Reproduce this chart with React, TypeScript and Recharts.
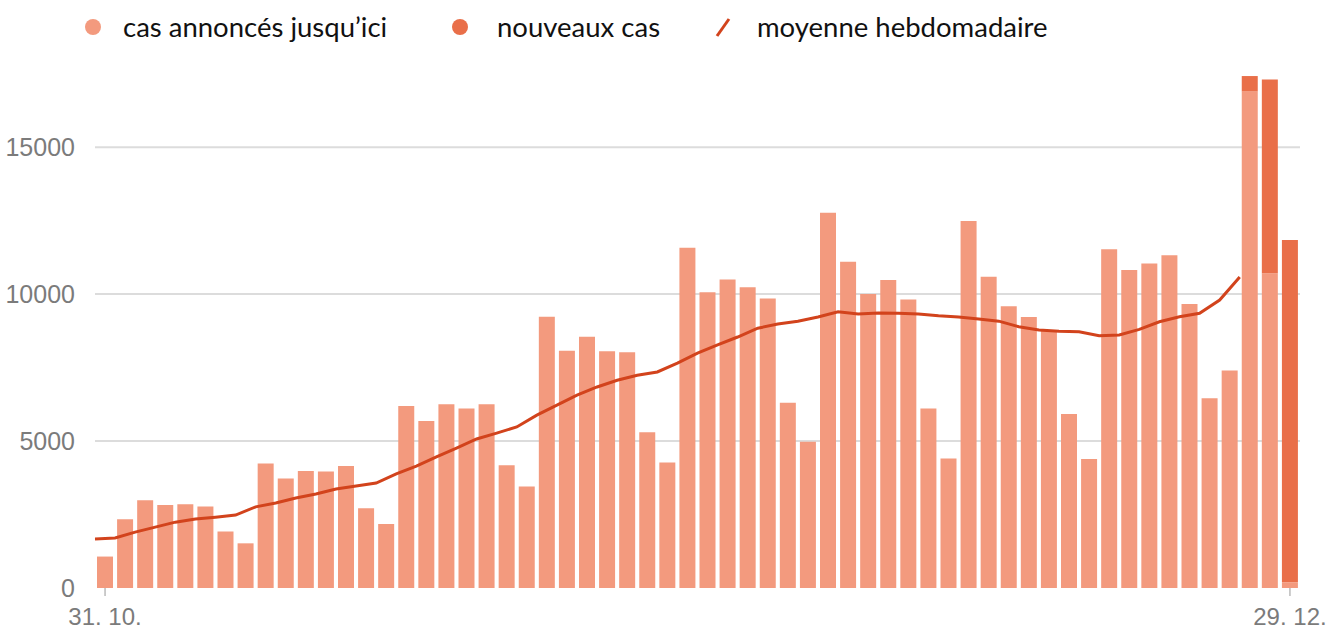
import { Bar, CartesianGrid, ComposedChart, Line, XAxis, YAxis } from "recharts";

// day labels, 31.10. -> 29.12.
const days = [
  "31. 10.",
  "1. 11.", "2. 11.", "3. 11.", "4. 11.", "5. 11.", "6. 11.", "7. 11.", "8. 11.", "9. 11.", "10. 11.",
  "11. 11.", "12. 11.", "13. 11.", "14. 11.", "15. 11.", "16. 11.", "17. 11.", "18. 11.", "19. 11.", "20. 11.",
  "21. 11.", "22. 11.", "23. 11.", "24. 11.", "25. 11.", "26. 11.", "27. 11.", "28. 11.", "29. 11.", "30. 11.",
  "1. 12.", "2. 12.", "3. 12.", "4. 12.", "5. 12.", "6. 12.", "7. 12.", "8. 12.", "9. 12.", "10. 12.",
  "11. 12.", "12. 12.", "13. 12.", "14. 12.", "15. 12.", "16. 12.", "17. 12.", "18. 12.", "19. 12.", "20. 12.",
  "21. 12.", "22. 12.", "23. 12.", "24. 12.", "25. 12.", "26. 12.", "27. 12.", "28. 12.", "29. 12.",
];

const announced = [
  1070, 2340, 2990, 2820, 2850, 2770, 1920, 1520, 4240, 3730,
  3980, 3960, 4150, 2710, 2180, 6190, 5680, 6250, 6110, 6250,
  4180, 3450, 9230, 8070, 8550, 8060, 8020, 5300, 4270, 11580,
  10060, 10500, 10230, 9850, 6300, 4980, 12770, 11100, 10000, 10480,
  9820, 6110, 4410, 12490, 10590, 9590, 9220, 8780, 5920, 4390,
  11530, 10820, 11040, 11320, 9660, 6460, 7400, 16900, 10710, 200,
];

const newCases = [
  0, 0, 0, 0, 0, 0, 0, 0, 0, 0,
  0, 0, 0, 0, 0, 0, 0, 0, 0, 0,
  0, 0, 0, 0, 0, 0, 0, 0, 0, 0,
  0, 0, 0, 0, 0, 0, 0, 0, 0, 0,
  0, 0, 0, 0, 0, 0, 0, 0, 0, 0,
  0, 0, 0, 0, 0, 0, 0, 520, 6590, 11640,
];

const weeklyAvg = [
  1670, 1700, 1900, 2070, 2240, 2350, 2410, 2480, 2760, 2890,
  3060, 3200, 3370, 3470, 3570, 3880, 4150, 4460, 4760, 5070,
  5270, 5480, 5880, 6220, 6560, 6840, 7070, 7240, 7350, 7650,
  7990, 8270, 8540, 8840, 8980, 9080, 9220, 9400, 9320, 9360,
  9350, 9320, 9260, 9220, 9150, 9080, 8890, 8780, 8740, 8720,
  8580, 8610, 8800, 9060, 9230, 9350, 9800, 10580,
];

const yTicks = [0, 5000, 10000, 15000];
const gridValues = [5000, 10000, 15000];
const xTicks = ["31. 10.", "29. 12."];

const LIGHT = "#F39A7E";
const DARK = "#E96F49";
const LINE = "#D2431C";
const TICK = "#7b7b7b";

const rows = days.map((day, i) => ({
  day,
  pos: i,
  announced: announced[i],
  newCases: newCases[i],
  avg: i < weeklyAvg.length ? weeklyAvg[i] : null,
}));

const legendText = {
  position: "absolute" as const,
  top: 8,
  fontSize: 27.5,
  lineHeight: "38px",
  color: "#111",
  whiteSpace: "nowrap" as const,
};

function Dot({ left, color }: { left: number; color: string }) {
  return (
    <div
      style={{
        position: "absolute",
        left: left - 8,
        top: 19,
        width: 16,
        height: 16,
        borderRadius: 8,
        background: color,
      }}
    />
  );
}

export default function App() {
  return (
    <div
      style={{
        position: "fixed",
        left: 0,
        top: 0,
        width: 1330,
        height: 631,
        fontFamily: "Lato, sans-serif",
        background: "#fff",
        overflow: "hidden",
      }}
    >
      <Dot left={93} color={LIGHT} />
      <div style={{ ...legendText, left: 123 }}>cas annoncés jusqu’ici</div>
      <Dot left={460} color={DARK} />
      <div style={{ ...legendText, left: 497 }}>nouveaux cas</div>
      <svg style={{ position: "absolute", left: 712, top: 15 }} width={22} height={26}>
        <line x1={5} y1={21} x2={17} y2={4} stroke={LINE} strokeWidth={3} />
      </svg>
      <div style={{ ...legendText, left: 757 }}>moyenne hebdomadaire</div>

      <div style={{ position: "absolute", left: 0, top: 0 }}>
        <ComposedChart
          width={1330}
          height={631}
          data={rows}
          margin={{ top: 59, right: 30, bottom: 0, left: 0 }}
          barCategoryGap={2}
        >
          <CartesianGrid
            horizontal
            vertical={false}
            horizontalValues={gridValues}
            stroke="#dcdcdc"
            strokeWidth={2}
          />
          <XAxis
            dataKey="day"
            ticks={xTicks}
            interval={0}
            height={43}
            axisLine={false}
            tickSize={8}
            tickMargin={12}
            tickLine={{ stroke: "#999" }}
            tick={{ fill: TICK, fontSize: 24, fontFamily: "Liberation Sans, Arial, sans-serif" }}
          />
          <XAxis xAxisId="avg" dataKey="pos" type="number" domain={[0, 60]} hide />
          <YAxis
            width={95}
            domain={[0, 18000]}
            ticks={yTicks}
            axisLine={false}
            tickLine={false}
            tickMargin={14}
            tick={{ fill: TICK, fontSize: 25, fontFamily: "Liberation Sans, Arial, sans-serif" }}
          />
          <Bar dataKey="announced" stackId="a" fill={LIGHT} isAnimationActive={false} />
          <Bar dataKey="newCases" stackId="a" fill={DARK} isAnimationActive={false} />
          <Line
            xAxisId="avg"
            dataKey="avg"
            type="linear"
            stroke={LINE}
            strokeWidth={3}
            dot={false}
            activeDot={false}
            isAnimationActive={false}
          />
        </ComposedChart>
      </div>
    </div>
  );
}
